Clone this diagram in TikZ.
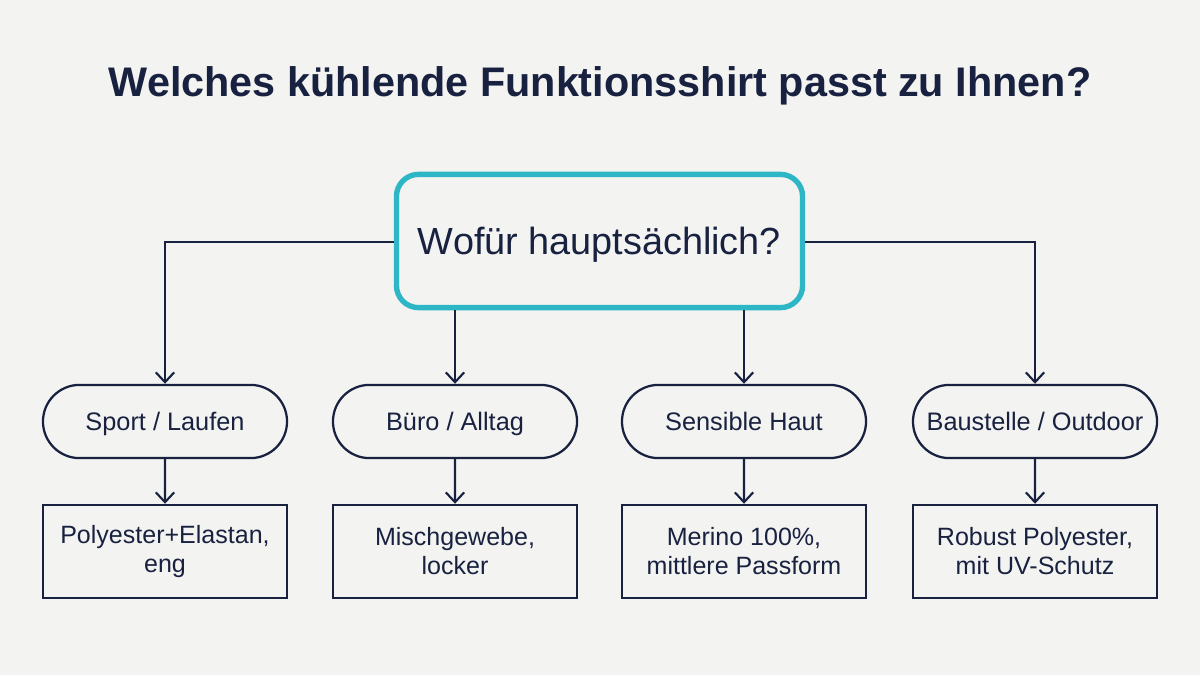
\documentclass[tikz,border=0pt]{standalone}
\usepackage{fontspec}
\setmainfont{Liberation Sans}
\usetikzlibrary{arrows.meta,shapes.misc}
\definecolor{bg}{HTML}{F3F3F1}
\definecolor{navy}{HTML}{18213F}
\definecolor{teal}{HTML}{2DB6C6}
\tikzset{
  conn/.style={draw=navy, line width=1.6pt, -{Straight Barb[length=7pt,width=13pt,line width=1.5pt]}},
  pill/.style={rounded rectangle, draw=navy, line width=1.6pt, minimum width=6.1cm, minimum height=1.83cm, text=navy, font=\fontsize{18}{21}\selectfont, inner sep=0pt, text height=12.9pt, text depth=0pt},
  res/.style={rectangle, draw=navy, line width=1.6pt, minimum width=6.1cm, minimum height=2.33cm, text=navy, font=\fontsize{17.8}{20.6}\selectfont, align=center, inner sep=0pt},
  central/.style={rectangle, rounded corners=0.55cm, draw=teal, line width=3.8pt, minimum width=10.15cm, minimum height=3.33cm, text=navy, font=\fontsize{26.9}{30}\selectfont, inner sep=0pt, text height=19.3pt, text depth=0pt},
  ttl/.style={text=navy, font=\bfseries\fontsize{29.4}{34}\selectfont}
}
\begin{document}
\begin{tikzpicture}[x=0.025cm,y=-0.025cm]
\fill[bg] (0,0) rectangle (1200,675);
\useasboundingbox (0,0) rectangle (1200,675);
\node[ttl] (title) at (600,86) {Welches kühlende Funktionsshirt passt zu Ihnen?};
\node[central] (c) at (599.5,241) {Wofür hauptsächlich?};
\node[pill] (p1) at (165,421.5) {Sport / Laufen};
\node[pill] (p2) at (455,421.5) {Büro / Alltag};
\node[pill] (p3) at (744,421.5) {Sensible Haut};
\node[pill] (p4) at (1035,421.5) {Baustelle / Outdoor};
\node[res] (r1) at (165,551.5) {Polyester+Elastan,\\eng};
\node[res] (r2) at (455,551.5) {Mischgewebe,\\locker};
\node[res] (r3) at (744,551.5) {Merino 100\%,\\mittlere Passform};
\node[res] (r4) at (1035,551.5) {Robust Polyester,\\mit UV-Schutz};
\draw[conn] (c.west |- 0,242) -| (p1.north);
\draw[conn] (c.east |- 0,242) -| (p4.north);
\draw[conn] (c.south -| p2.north) -- (p2.north);
\draw[conn] (c.south -| p3.north) -- (p3.north);
\draw[conn] (p1) -- (r1);
\draw[conn] (p2) -- (r2);
\draw[conn] (p3) -- (r3);
\draw[conn] (p4) -- (r4);
\end{tikzpicture}
\end{document}
